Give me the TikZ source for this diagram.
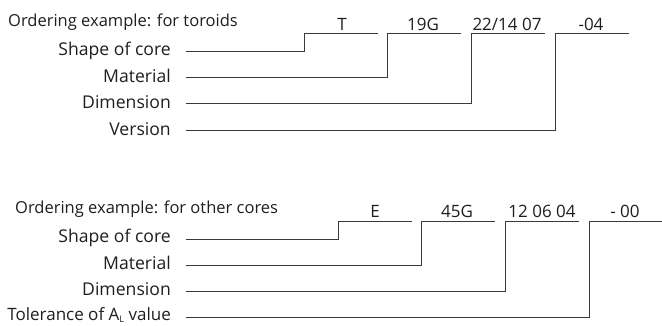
\documentclass[tikz,border=0pt]{standalone}
\usepackage{fontspec}
\setmainfont{Open Sans}
\definecolor{ink}{HTML}{1E1E1E}
\definecolor{wire}{HTML}{3A3A3A}
\newcommand{\subL}{\raisebox{-1.6pt}{\fontsize{9}{9}\selectfont L}}
\begin{document}
\begin{tikzpicture}[x=1pt,y=-1pt,
  txt/.style={inner sep=0pt,text=ink,font=\fontsize{16.5}{19}\selectfont},
  lbl/.style={txt,anchor=base east,font=\fontsize{17.6}{20}\selectfont},
  ttl/.style={txt,anchor=base west},
  code/.style={txt,anchor=base,font=\fontsize{17}{20}\selectfont},
  wire/.style={draw=wire,line width=0.9pt}]
\useasboundingbox (0,0) rectangle (662,325);
% ---------- toroids ----------
\node[ttl] (t0) at (8,26.5) {Ordering example: for toroids};
\node[lbl] (t1) at (171,55) {Shape of core};
\node[lbl] (t2) at (171,82) {Material};
\node[lbl] (t3) at (171,108.5) {Dimension};
\node[lbl] (t4) at (171,135) {Version};
\node[code] (c1) at (342,30) {T};
\node[code] (c2) at (423,30) {19G};
\node[code] (c3) at (507,30) {22/14 07};
\node[code] (c4) at (591,30) {-04};
\coordinate (a1) at (304,33.3); \coordinate (b1) at (378,33.3);
\coordinate (a2) at (387,33.3); \coordinate (b2) at (461,33.3);
\coordinate (a3) at (471,33.3); \coordinate (b3) at (545,33.3);
\coordinate (a4) at (555,33.3); \coordinate (b4) at (629,33.3);
\coordinate (s1) at (186,51.7);
\coordinate (s2) at (186,77.7);
\coordinate (s3) at (186,103.7);
\coordinate (s4) at (186,130);
\draw[wire] (s1) -| (a1) -- (b1);
\draw[wire] (s2) -| (a2) -- (b2);
\draw[wire] (s3) -| (a3) -- (b3);
\draw[wire] (s4) -| (a4) -- (b4);
% ---------- other cores ----------
\node[ttl] (u0) at (15,213.3) {Ordering example: for other cores};
\node[lbl] (u1) at (171,242.7) {Shape of core};
\node[lbl] (u2) at (171,269) {Material};
\node[lbl] (u3) at (171,295) {Dimension};
\node[lbl,font=\fontsize{17}{20}\selectfont] (u4) at (171,320.5) {Tolerance of A\subL{} value};
\node[code] (d1) at (375,217.7) {E};
\node[code] (d2) at (457,217.7) {45G};
\node[code] (d3) at (542,217.7) {12 06 04};
\node[code] (d4) at (625,217.7) {- 00};
\coordinate (e1) at (338,221.7); \coordinate (f1) at (412,221.7);
\coordinate (e2) at (421,221.7); \coordinate (f2) at (495,221.7);
\coordinate (e3) at (505,221.7); \coordinate (f3) at (579,221.7);
\coordinate (e4) at (589,221.7); \coordinate (f4) at (662,221.7);
\coordinate (r1) at (186,239.3);
\coordinate (r2) at (186,265.7);
\coordinate (r3) at (186,291.7);
\coordinate (r4) at (186,317.7);
\draw[wire] (r1) -| (e1) -- (f1);
\draw[wire] (r2) -| (e2) -- (f2);
\draw[wire] (r3) -| (e3) -- (f3);
\draw[wire] (r4) -| (e4) -- (f4);
\end{tikzpicture}
\end{document}
